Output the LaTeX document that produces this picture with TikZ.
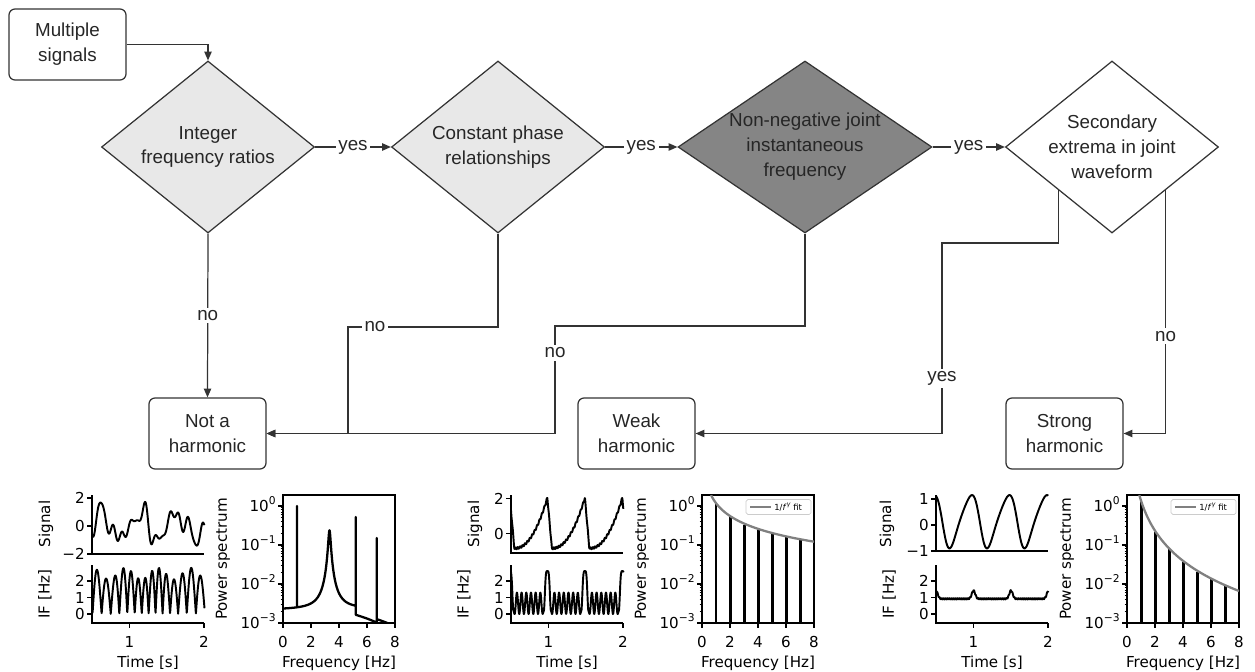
\documentclass[tikz,border=0pt]{standalone}
\usepackage{fontspec}
\setmainfont{Liberation Sans}
\newfontfamily\plotfont{DejaVu Sans}
\usetikzlibrary{arrows.meta, shapes.geometric}

\definecolor{linec}{HTML}{333333}
\definecolor{textc}{HTML}{262626}
\definecolor{lightfill}{HTML}{E8E8E8}
\definecolor{darkfill}{HTML}{858585}
\definecolor{fitgray}{HTML}{808080}

% power of ten tick labels
\newcommand{\tenpow}[1]{10\raisebox{0.45em}{\fontsize{6.1}{7}\selectfont #1}}

% sawtooth signal and its instantaneous frequency
\pgfmathdeclarefunction{sawsig}{1}{%
  \begingroup
    \pgfmathparse{mod(#1+0.015,0.5)/0.5}\let\sawph\pgfmathresult
    \pgfmathparse{(\sawph<0.12)*(2.05-24.2*\sawph)+(1-(\sawph<0.12))*(-0.85+2.9*(max(\sawph-0.12,0.001)/0.88)^2.2)+0.06*sin(360*mod(31*#1,1))}%
    \pgfmathsmuggle\pgfmathresult
  \endgroup}
\pgfmathdeclarefunction{sawif}{1}{%
  \begingroup
    \pgfmathparse{mod(#1+0.015,0.5)}\let\sawr\pgfmathresult
    \pgfmathparse{min(\sawr,0.5-\sawr)}\let\sawd\pgfmathresult
    \pgfmathparse{max((0.65-0.65*cos(5760*(#1+0.015)))*(1-exp(-min((\sawd/0.06)^4,20))),2.6*exp(-min((\sawd/0.036)^4,20)))}%
    \pgfmathsmuggle\pgfmathresult
  \endgroup}
% near-sinusoid instantaneous frequency
\pgfmathdeclarefunction{sinif}{1}{%
  \begingroup
    \pgfmathparse{mod(#1,0.5)}\let\sinr\pgfmathresult
    \pgfmathparse{min(\sinr,0.5-\sinr)}\let\sind\pgfmathresult
    \pgfmathparse{0.92+0.5*exp(-min((\sind/0.032)^2,20))+0.04*sin(360*mod(37*#1,1))}%
    \pgfmathsmuggle\pgfmathresult
  \endgroup}

\tikzset{
  spine/.style={line width=0.6pt, black},
  minortick/.style={line width=0.4pt, black},
  ticklab/.style={font=\plotfont\fontsize{8.6}{10.3}\selectfont, inner sep=0pt},
  trace/.style={line width=1.1pt, black, line join=round},
  harm/.style={line width=1.7pt, black},
  fit/.style={line width=1.3pt, fitgray},
  legendbox/.style={draw=black!20, fill=white, line width=0.4pt, rounded corners=1pt},
  legtext/.style={font=\plotfont\fontsize{4.8}{5.5}\selectfont, inner sep=0pt}
}

% axes of one signal / IF / spectrum group, #1 = signal label x, #2 = signal bottom
\newcommand{\plotframe}[2]{%
  \draw[spine] (0,495) -- (0,#2) -- (112,#2);
  \draw[spine] (0,565) -- (0,623) -- (112,623);
  \foreach \v/\yy in {0/614,1/597.5,2/581} {
    \draw[spine] (-5,\yy) -- (0,\yy);
    \node[ticklab, anchor=base east] at (-7,{\yy+5.5}) {\v};
  }
  \foreach \v/\xx in {1/37.5,2/112} {
    \draw[spine] (\xx,623) -- (\xx,628);
    \node[ticklab, anchor=base] at (\xx,647) {\v};
  }
  \node[ticklab, anchor=base] at (56,667) {Time [s]};
  \node[ticklab, rotate=90] at (#1,524) {Signal};
  \node[ticklab, rotate=90] at (-47,594) {IF [Hz]};
  % spectrum box
  \draw[spine] (191,495) rectangle (303,623);
  \foreach \f in {0,2,...,8} {
    \draw[spine] ({191+14*\f},623) -- ({191+14*\f},628);
    \node[ticklab, anchor=base] at ({191+14*\f},647) {\f};
  }
  \foreach \e/\yy in {0/506,−1/545,−2/584,−3/623} {
    \draw[spine] (186,\yy) -- (191,\yy);
    \node[ticklab, anchor=base east] at (184,{\yy+5.5}) {\tenpow{\e}};
  }
  \foreach \yy in {545,584,623}
    \foreach \k in {2,...,9}
      \draw[minortick] (188.5,{\yy-39*log10(\k)}) -- (191,{\yy-39*log10(\k)});
  \node[ticklab, anchor=base] at (247,667) {Frequency [Hz]};
  \node[ticklab, rotate=90] at (131,559) {Power spectrum};
}

% legend of the 1/f fit
\newcommand{\fitlegend}{%
  \draw[legendbox] (235,499.5) rectangle (300,514.5);
  \draw[fit] (239,507) -- (260,507);
  \node[legtext, anchor=west] at (263,507) {1/\textit{f}\raisebox{0.4em}{\fontsize{3.6}{4}\selectfont\textit{γ}} fit};
}

\begin{document}
\begin{tikzpicture}[x=0.02cm, y=-0.02cm, >={Triangle[length=5pt,width=4.2pt]},
    flowtext/.style={font=\fontsize{10.7}{14.2}\selectfont, text=textc},
    endbox/.style={flowtext, draw=linec, line width=0.7pt, rounded corners=0.12cm,
      minimum width=2.34cm, minimum height=1.42cm, align=center},
    decision/.style={diamond, draw=linec, line width=0.7pt, inner sep=0pt,
      minimum width=4.26cm, minimum height=3.44cm},
    flow/.style={draw=linec, line width=0.7pt, ->},
    edgelab/.style={flowtext, fill=white, inner sep=1.5pt}]
    \useasboundingbox (0,0) rectangle (1255,672);

    % Decisions
    \node[endbox] (signals) at (67.5,44.5) {Multiple\\signals};
    \node[decision, fill=lightfill,
      label={[flowtext, align=center]center:Integer\\frequency ratios}] (ratios) at (208,147) {};
    \node[decision, fill=lightfill,
      label={[flowtext, align=center]center:Constant phase\\relationships}] (phase) at (498,147) {};
    \node[decision, fill=darkfill, minimum width=5.08cm,
      label={[flowtext, align=center]center:Non-negative joint\\instantaneous\\frequency}] (joint) at (805,147) {};
    \node[decision, fill=white,
      label={[flowtext, align=center]center:Secondary\\extrema in joint\\waveform}] (extrema) at (1112,147) {};

    % Outcomes
    \node[endbox] (nothar) at (207.5,433.5) {Not a\\harmonic};
    \node[endbox] (weak) at (636.5,433.5) {Weak\\harmonic};
    \node[endbox] (strong) at (1064.5,433.5) {Strong\\harmonic};

    % Connectors
    \draw[flow] (signals.east) -| (ratios.north);
    \draw[flow] (ratios.east) -- node[edgelab] {yes} (phase.west);
    \draw[flow] (phase.east) -- node[edgelab] {yes} (joint.west);
    \draw[flow] (joint.east) -- node[edgelab] {yes} (extrema.west);
    \draw[flow] (ratios.south) -- node[edgelab] {no} (nothar.north);
    \coordinate (phasebend) at (348,327);
    \draw[flow] (phase.south) |- node[edgelab, pos=0.91] {no} (phasebend) |- (nothar.east);
    \coordinate (jointbend) at (555,326);
    \draw[flow] (joint.south) |- (jointbend) |- node[edgelab, pos=0.125] {no} (nothar.east);
    \coordinate (yesbend) at (942,243);
    \draw[flow] (extrema.south west) |- (yesbend) |- node[edgelab, pos=0.355] {yes} (weak.east);
    \draw[flow] (extrema.south east) |- node[edgelab, pos=0.3] {no} (strong.east);

    % Not a harmonic: non-integer frequencies
    \begin{scope}[shift={(92,0)}]
        \plotframe{-46}{554}
        \foreach \v/\yy in {2/498,0/526,−2/554} {
            \draw[spine] (-5,\yy) -- (0,\yy);
            \node[ticklab, anchor=base east] at (-7,{\yy+5.5}) {\v};
        }
        \draw[trace] plot[domain=0.5:2, samples=400]
            ({75*(\x-0.5)}, {526-14*(0.9*cos(720*(\x-0.63))+0.4*sin(1872*\x)+0.35*sin(2412*\x+50)+0.3*sin(1188*\x+90)+0.25*sin(3300*\x+20))});
        \draw[trace] plot[domain=0.5:2, samples=500]
            ({75*(\x-0.5)}, {614-16.5*(2.45+0.35*sin(828*\x+30))*abs(sin(1720*\x+50*sin(288*\x)))});
        \begin{scope}
            \clip (191,495) rectangle (303,623);
            \draw[trace, line width=1.3pt] plot[domain=0:1, samples=30]
                ({191+14*\x}, {623-39*log10(2.2+0.02*\x+235/(1+(\x-3.32)*(\x-3.32)/0.007056))})
                -- (205,506)
                -- plot[domain=1:3.32, samples=160]
                ({191+14*\x}, {623-39*log10(2.2+0.02*\x+235/(1+(\x-3.32)*(\x-3.32)/0.007056))})
                -- plot[domain=3.32:5.2, samples=130]
                ({191+14*\x}, {623-39*log10(2.2+0.02*\x+235/(1+(\x-3.32)*(\x-3.32)/0.007056))})
                -- (263.8,517)
                -- plot[domain=5.2:6.7, samples=20] ({191+14*\x}, {623-39*log10(1.62-0.4*(\x-5.2))})
                -- (284.8,538)
                -- plot[domain=6.7:7.45, samples=15] ({191+14*\x}, {623-39*log10(1.25-0.33*(\x-6.7))});
        \end{scope}
    \end{scope}

    % Weak harmonic: sawtooth
    \begin{scope}[shift={(511,0)}]
        \plotframe{-36}{553}
        \foreach \v/\yy in {2/498.5,0/533.5} {
            \draw[spine] (-5,\yy) -- (0,\yy);
            \node[ticklab, anchor=base east] at (-7,{\yy+5.5}) {\v};
        }
        \draw[trace] plot[domain=0.5:2, samples=400] ({75*(\x-0.5)}, {533.5-17.5*sawsig(\x)});
        \draw[trace] plot[domain=0.5:2, samples=500] ({75*(\x-0.5)}, {614-16.5*sawif(\x)});
        \begin{scope}
            \clip (191,495) rectangle (303,623);
            \foreach \f in {1,...,7}
                \draw[harm] ({191+14*\f},623) -- ({191+14*\f},{624-39*(3.073-1.094*log10(\f))});
            \draw[fit] plot[domain=0.644:8, samples=80] ({191+14*\x}, {623-39*(3.073-1.094*log10(\x))});
        \end{scope}
        \fitlegend
    \end{scope}

    % Strong harmonic: near sinusoid
    \begin{scope}[shift={(936,0)}]
        \plotframe{-49}{551}
        \foreach \v/\yy in {1/499,0/525,−1/551} {
            \draw[spine] (-5,\yy) -- (0,\yy);
            \node[ticklab, anchor=base east] at (-7,{\yy+5.5}) {\v};
        }
        \draw[trace] plot[domain=0.5:2, samples=300]
            ({75*(\x-0.5)}, {525-26*(0.125+1.025*cos(720*(\x-0.98)+20*(1-cos(720*(\x-0.98)))))});
        \draw[trace] plot[domain=0.5:2, samples=400] ({75*(\x-0.5)}, {614-16.5*sinif(\x)});
        \begin{scope}
            \clip (191,495) rectangle (303,623);
            \foreach \f in {1,...,7}
                \draw[harm] ({191+14*\f},623) -- ({191+14*\f},{624-39*(3.139-2.567*log10(\f))});
            \draw[fit] plot[domain=0.88:8, samples=80] ({191+14*\x}, {623-39*(3.139-2.567*log10(\x))});
        \end{scope}
        \fitlegend
    \end{scope}
\end{tikzpicture}
\end{document}
